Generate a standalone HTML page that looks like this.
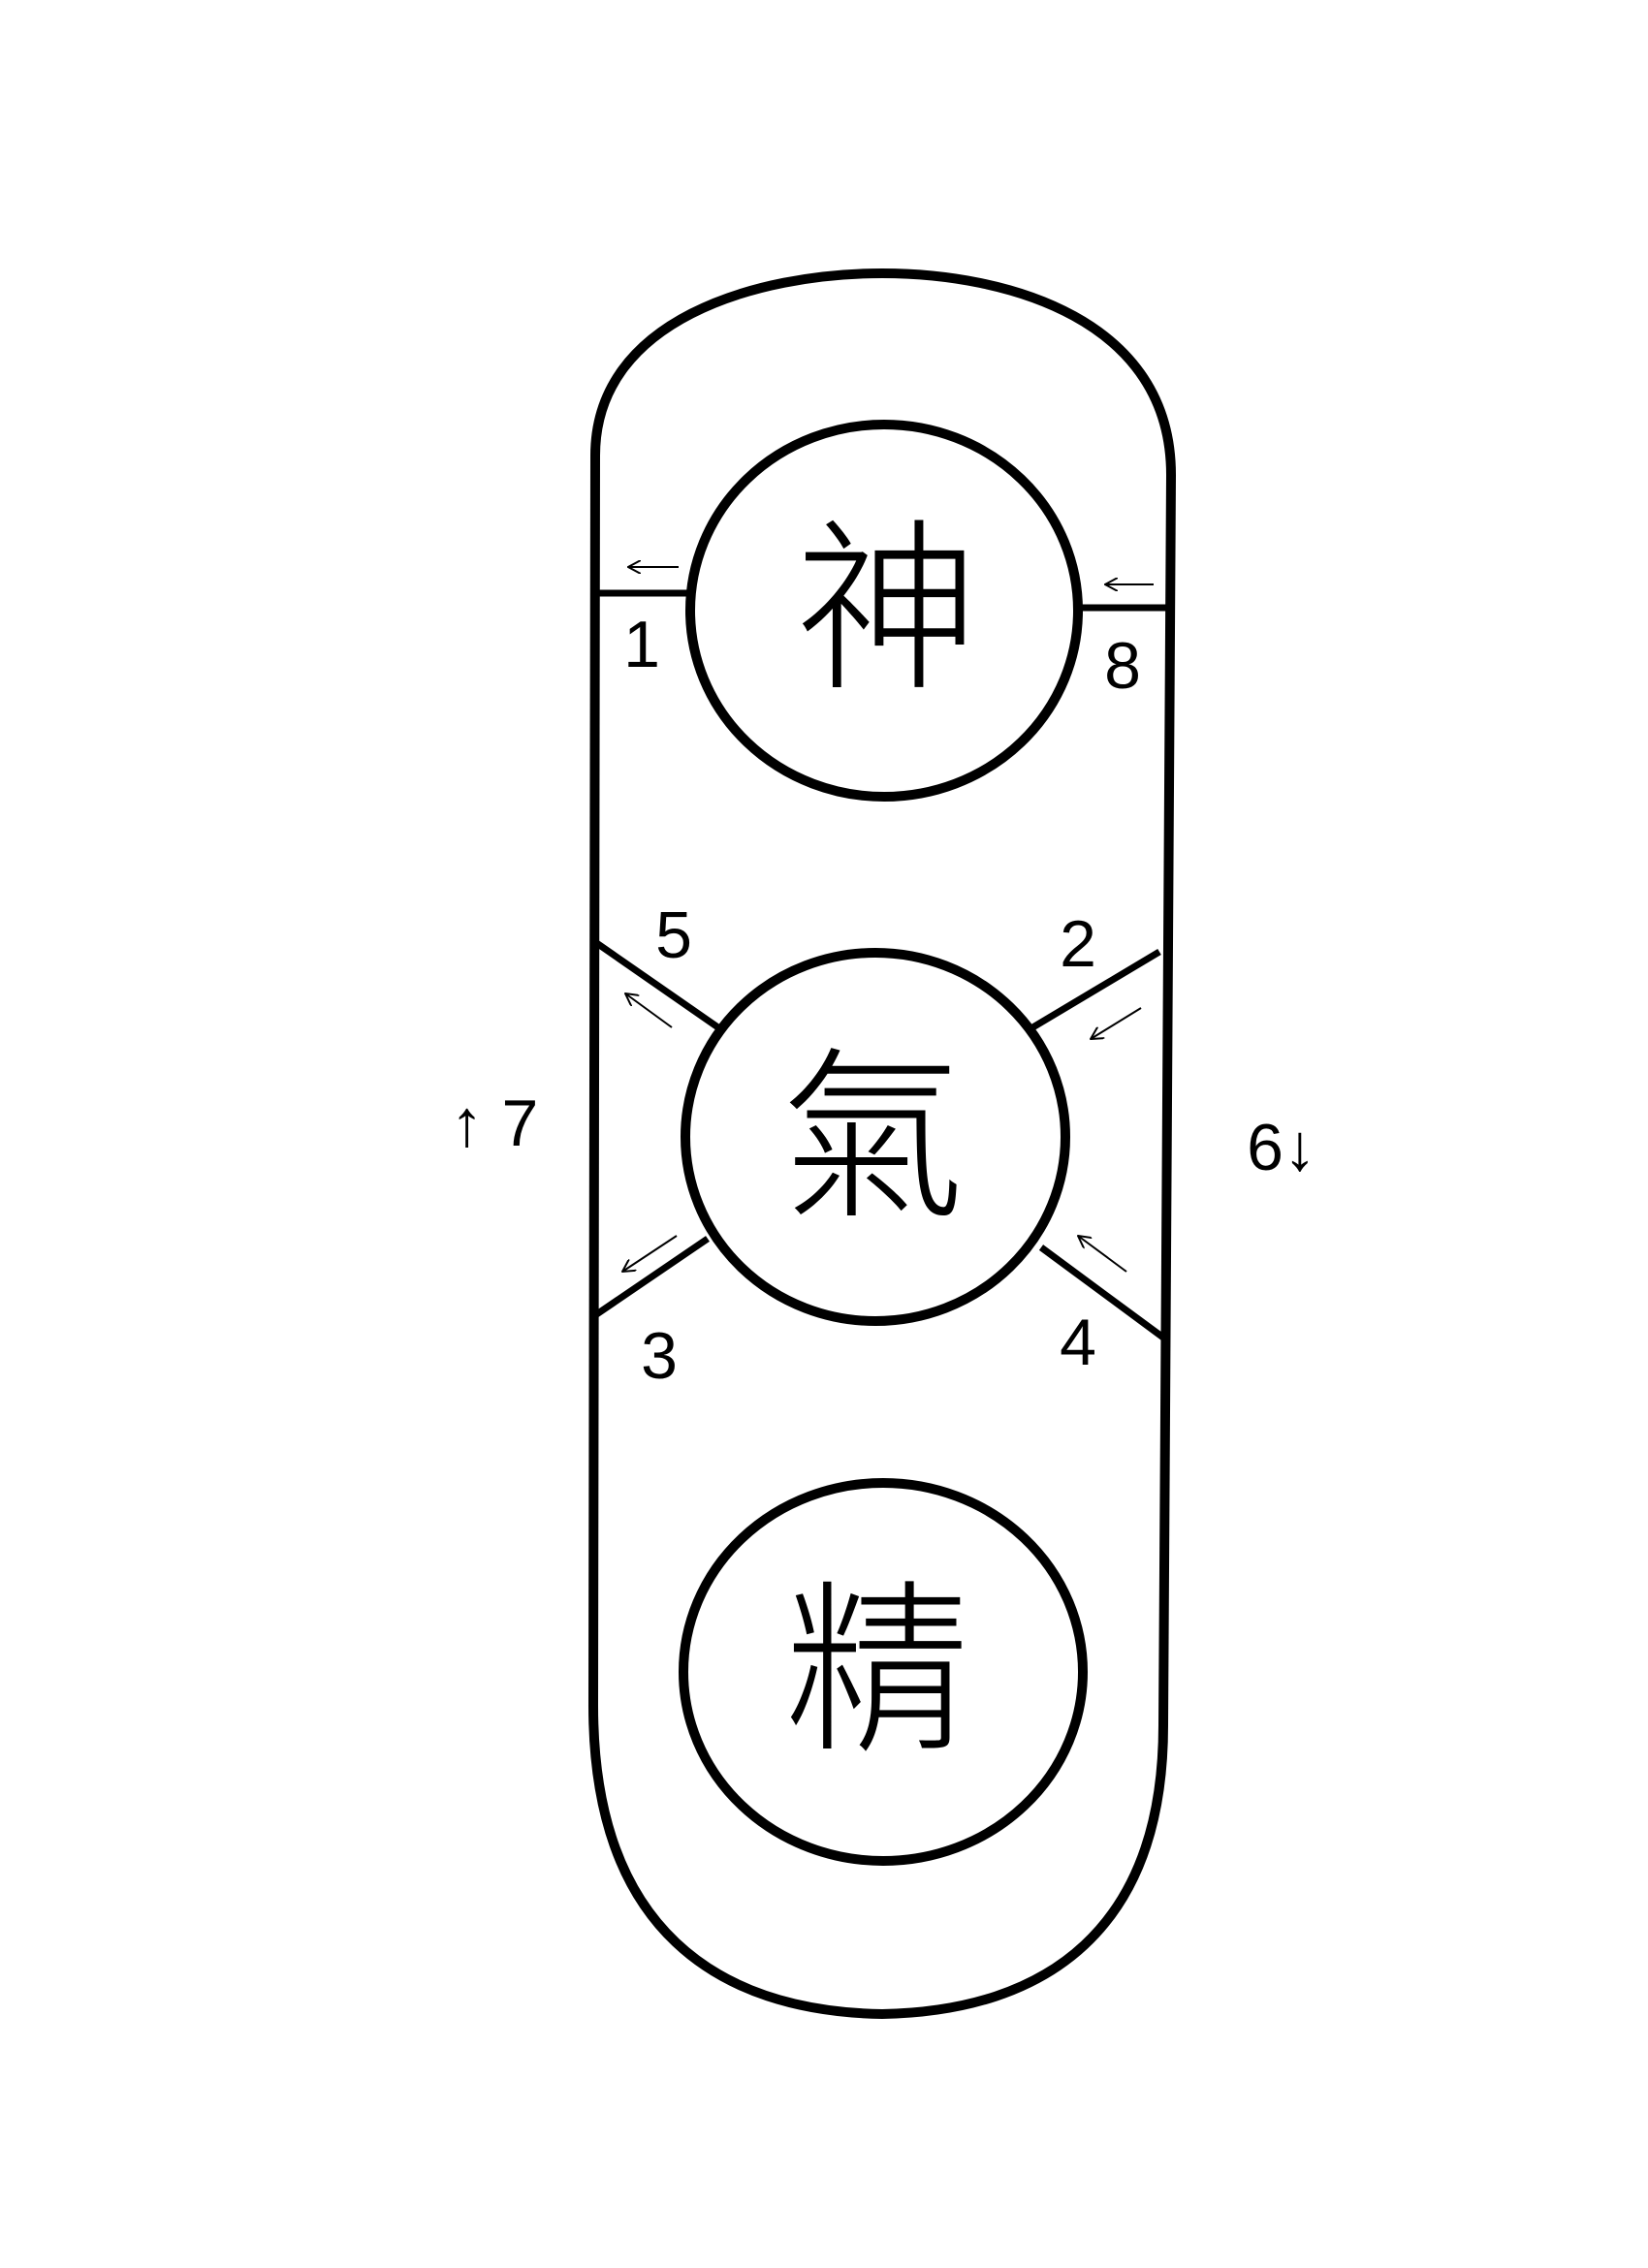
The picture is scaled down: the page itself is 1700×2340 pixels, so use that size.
<!DOCTYPE html>
<html><head><meta charset="utf-8"><style>
html,body{margin:0;padding:0;background:#fff;}
svg{display:block}
</style></head><body>
<svg width="1700" height="2340" viewBox="0 0 1700 2340" xmlns="http://www.w3.org/2000/svg">
<defs><marker id="ah" markerWidth="14" markerHeight="14" refX="1" refY="7" orient="auto" markerUnits="userSpaceOnUse"><path d="M14,0 L1,7 L14,14" fill="none" stroke="#000" stroke-width="2"/></marker></defs>
<g fill="none" stroke="#000" stroke-width="10" stroke-linejoin="round">
<path d="M612,1760 L614,470 C614,330 780,282 910,282 C1040,282 1208,330 1208,490 L1200,1780 C1200,1990 1080,2075 910,2078 C740,2075 612,1990 612,1760 Z"/>
<ellipse cx="912" cy="630" rx="200" ry="192"/>
<ellipse cx="903" cy="1173" rx="196" ry="190"/>
<ellipse cx="911" cy="1725" rx="206" ry="195"/>
</g>
<g stroke="#000" stroke-width="7" fill="none">
<line x1="614" y1="612" x2="714" y2="612"/>
<line x1="1112" y1="627" x2="1208" y2="627"/>
<line x1="614" y1="972" x2="745" y2="1063"/>
<line x1="1196" y1="982" x2="1062" y2="1062"/>
<line x1="614" y1="1357" x2="730" y2="1278"/>
<line x1="1200" y1="1380" x2="1074" y2="1287"/>
</g>
<g stroke="#000" stroke-width="2" fill="none">
<line x1="648" y1="585" x2="700" y2="585" marker-start="url(#ah)"/>
<line x1="1140" y1="603" x2="1190" y2="603" marker-start="url(#ah)"/>
<line x1="645" y1="1025" x2="693" y2="1060" marker-start="url(#ah)"/>
<line x1="1125" y1="1072" x2="1177" y2="1040" marker-start="url(#ah)"/>
<line x1="642" y1="1312" x2="698" y2="1275" marker-start="url(#ah)"/>
<line x1="1112" y1="1275" x2="1162" y2="1312" marker-start="url(#ah)"/>
</g>
<g font-family="Liberation Sans, sans-serif" font-size="68" fill="#000" text-anchor="middle">
<text x="662" y="688">1</text>
<text x="1158" y="710">8</text>
<text x="695" y="988">5</text>
<text x="1112" y="997">2</text>
<text x="680" y="1422">3</text>
<text x="1112" y="1408">4</text>
<text x="510" y="1182">↑ 7</text>
<text x="1322" y="1207">6↓</text>
</g>
<g font-family="Noto Sans CJK TC, Noto Sans CJK SC, sans-serif" font-size="190" font-weight="300" fill="#000" text-anchor="middle">
<text x="915" y="695">神</text>
<text x="900" y="1240">氣</text>
<text x="905" y="1790">精</text>
</g>
</svg>
</body></html>
